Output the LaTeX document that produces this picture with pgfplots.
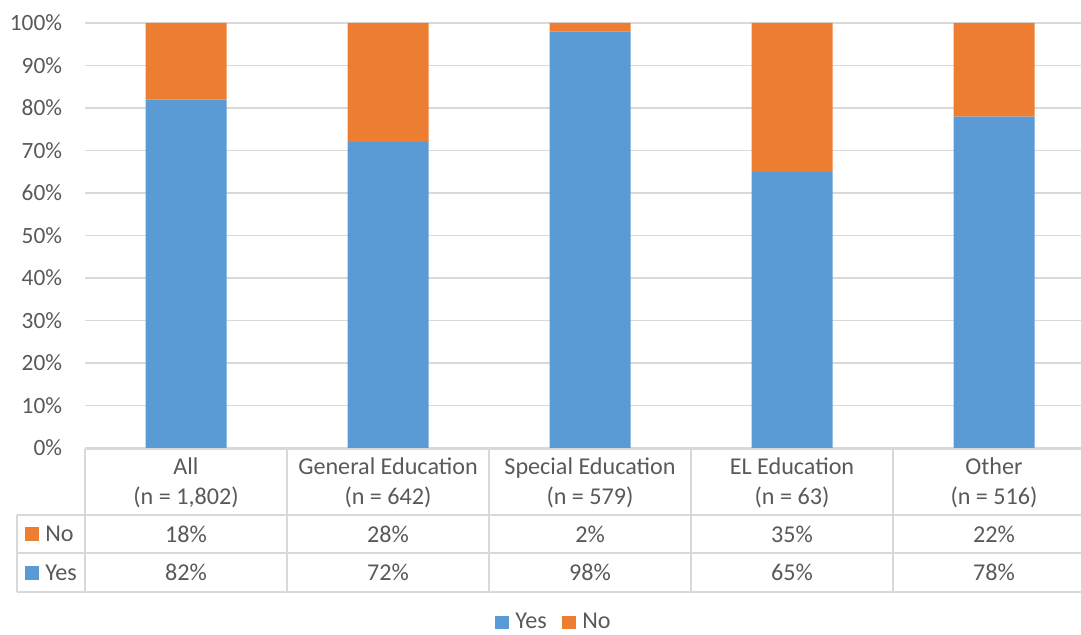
\documentclass[border=0pt]{standalone}
\usepackage{pgfplots}
\pgfplotsset{compat=1.18}
\usepackage{pgfplotstable}
\usepackage{fontspec}
\setmainfont{Carlito}

\definecolor{yesblue}{HTML}{5B9BD5}
\definecolor{noorange}{HTML}{ED7D31}
\definecolor{txt}{HTML}{595959}
\definecolor{rule}{HTML}{D9D9D9}

% Share of respondents answering Yes / No, by group
\pgfplotstableread{
x yes no
0 82 18
1 72 28
2 98 2
3 65 35
4 78 22
}\shares

\begin{document}
\begin{tikzpicture}[font=\fontsize{18.1}{22.5}\selectfont]
\begin{axis}[
  at={(63.75pt,-336pt)}, anchor=south west,
  width=757.5pt, height=318.75pt, scale only axis,
  xmin=-0.5, xmax=4.5, ymin=0, ymax=100,
  ybar stacked, bar width=60.75pt,
  xtick=\empty,
  ytick={0,10,...,100},
  yticklabel={\pgfmathprintnumber{\tick}\%},
  /pgf/number format/assume math mode=true,
  yticklabel style={text=txt, inner sep=0pt, anchor=east, xshift=-17pt,
    font=\fontsize{17.5}{21}\selectfont},
  axis line style={draw=none},
  tick style={draw=none},
  ymajorgrids,
  grid style={rule, line width=1pt},
]
  \addplot[fill=yesblue, draw=none] table[x=x, y=yes] {\shares};
  \addplot[fill=noorange, draw=none] table[x=x, y=no] {\shares};
\end{axis}

% data table below the plot
\begin{scope}[x=0.75pt,y=-0.75pt, text=txt]
  \draw[rule, line width=1pt] (85,449) -- (1095,449);
  \foreach \yy in {515,553,592} \draw[rule, line width=1pt] (17,\yy) -- (1095,\yy);
  \draw[rule, line width=1pt] (17,515) -- (17,592);
  \foreach \xx in {85,287,489,691,893,1095} \draw[rule, line width=1pt] (\xx,449) -- (\xx,592);

  \foreach \i/\name/\n in {0/All/{1,802},1/General Education/642,2/Special Education/579,3/EL Education/63,4/Other/516}{
    \node[align=center] at ({186+202*\i},482.5) {\name\\(n = \n)};
    \pgfplotstablegetelem{\i}{no}\of\shares
    \node at ({186+202*\i},534) {\pgfplotsretval\%};
    \pgfplotstablegetelem{\i}{yes}\of\shares
    \node at ({186+202*\i},572.5) {\pgfplotsretval\%};
  }

  % row keys
  \fill[noorange] (25,527) rectangle (39,541);
  \node[anchor=west, inner sep=0pt] at (45,534) {No};
  \fill[yesblue] (25,565.5) rectangle (39,579.5);
  \node[anchor=west, inner sep=0pt] at (45,572.5) {Yes};

  % legend
  \fill[yesblue] (495,616) rectangle (509,629);
  \node[anchor=base west, inner sep=0pt] at (515,628.5) {Yes};
  \fill[noorange] (562,616) rectangle (576,629);
  \node[anchor=base west, inner sep=0pt] at (582,628.5) {No};
\end{scope}

% page covers the visible region only; the last column runs off the right edge
\pgfresetboundingbox
\path[use as bounding box, x=0.75pt, y=-0.75pt] (0,0) rectangle (1081,635);
\end{tikzpicture}
\end{document}
